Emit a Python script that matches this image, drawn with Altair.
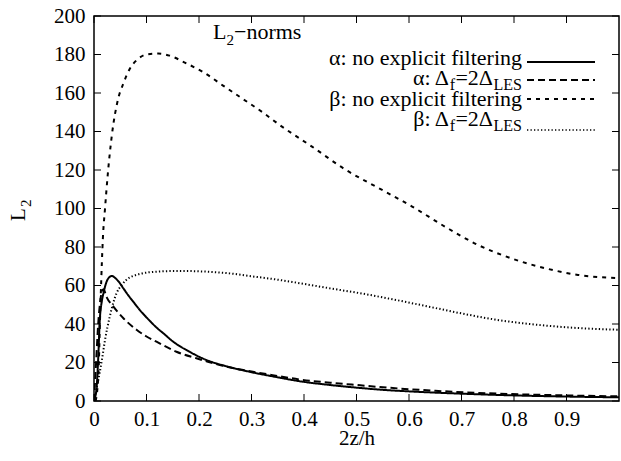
import altair as alt
import pandas as pd

# ---------------- data ----------------
series_names = ["a_nofilt", "a_filt", "b_nofilt", "b_filt"]

a_nofilt_x = [0, 0.003, 0.005, 0.008, 0.011, 0.015, 0.018, 0.024, 0.03, 0.034, 0.04, 0.047, 0.056,
              0.065, 0.075, 0.085, 0.094, 0.105, 0.119, 0.135, 0.15, 0.165, 0.182, 0.2, 0.217, 0.25,
              0.296, 0.35, 0.391, 0.45, 0.486, 0.55, 0.6, 0.7, 0.8, 0.9, 1.0]
a_nofilt_y = [0, 3, 7, 22, 42, 52, 56, 62, 64.5, 65, 64, 62, 58.5,
              55, 51.5, 48, 45.2, 42, 38.2, 34.5, 31, 28.2, 25.6, 23, 21, 18.2,
              15.2, 12.3, 10.3, 8.3, 7.3, 5.8, 5.0, 3.8, 2.9, 2.3, 1.9]

a_filt_x = [0, 0.004, 0.008, 0.012, 0.015, 0.018, 0.024, 0.037, 0.056, 0.081, 0.1, 0.119, 0.157,
            0.195, 0.217, 0.25, 0.3, 0.35, 0.391, 0.45, 0.5, 0.581, 0.65, 0.77, 0.9, 1.0]
a_filt_y = [0, 20, 40, 52, 57, 58, 54, 49, 43, 37, 33.5, 30.8, 25.6,
            22.2, 20.4, 18, 15.3, 13, 11.2, 9.5, 8.3, 6.5, 5.3, 3.8, 2.9, 2.4]

b_nofilt_x = [0.003, 0.006, 0.008, 0.0095, 0.011, 0.013, 0.015, 0.017, 0.021, 0.026, 0.034, 0.046,
              0.056, 0.068, 0.081, 0.1, 0.122, 0.144, 0.176, 0.207, 0.245, 0.283, 0.321, 0.353,
              0.416, 0.48, 0.543, 0.606, 0.669, 0.732, 0.796, 0.859, 0.922, 1.0]
b_nofilt_y = [0, 5, 12, 22, 38, 56, 72, 85, 100, 117, 138, 157,
              165, 172.5, 177, 180, 180.5, 179.4, 175.4, 171, 164, 157, 150, 143.5,
              132, 120, 110.5, 101, 90.5, 81, 74, 69, 65.5, 63.8]

b_filt_x = [0, 0.002, 0.006, 0.011, 0.016, 0.021, 0.03, 0.043, 0.052, 0.062, 0.075, 0.087, 0.119,
            0.15, 0.18, 0.214, 0.258, 0.3, 0.353, 0.385, 0.45, 0.511, 0.575, 0.638, 0.7, 0.764,
            0.83, 0.89, 0.95, 1.0]
b_filt_y = [0, 2, 8, 15, 23, 31.7, 43.8, 56, 60, 63, 65, 66, 67.2,
            67.5, 67.5, 67.2, 66.3, 64.8, 62.9, 61.5, 58.5, 55.8, 52.5, 49, 45.5, 42.3,
            40, 38.5, 37.5, 37]

x_ticks = [0, 0.1, 0.2, 0.3, 0.4, 0.5, 0.6, 0.7, 0.8, 0.9]
y_ticks = [0, 20, 40, 60, 80, 100, 120, 140, 160, 180, 200]

# ---------------- styling ----------------
FONT = "'Liberation Serif', 'DejaVu Serif', serif"
W, H = 525, 385
X0, Y0 = 94, 16
dashes = [[1, 0], [7, 4], [4, 5], [1.3, 2.2]]
widths = [2, 2, 2.2, 1.3]
LM, LS = 22, 16   # legend main / subscript font sizes

rows = []
for name, xs_, ys_ in [("a_nofilt", a_nofilt_x, a_nofilt_y), ("a_filt", a_filt_x, a_filt_y),
                        ("b_nofilt", b_nofilt_x, b_nofilt_y), ("b_filt", b_filt_x, b_filt_y)]:
    for a, b in zip(xs_, ys_):
        rows.append({"series": name, "x": a, "y": b})
df = pd.DataFrame(rows)

xs = alt.Scale(domain=[0, 1], nice=False, zero=False)
ys = alt.Scale(domain=[0, 200], nice=False)
x_axis = alt.Axis(values=x_ticks, format="~g", ticks=False, domain=False, grid=False,
                  labelFont=FONT, labelFontSize=21, labelColor="black", labelPadding=7,
                  labelFlush=False, title=None)
y_axis = alt.Axis(values=y_ticks, ticks=False, domain=False, grid=False, labelFont=FONT,
                  labelFontSize=21, labelColor="black", labelPadding=9, labelFlush=False,
                  title=None)

lines = alt.Chart(df).mark_line(interpolate="monotone", clip=True, color="black").encode(
    x=alt.X("x:Q", scale=xs, axis=x_axis),
    y=alt.Y("y:Q", scale=ys, axis=y_axis),
    strokeDash=alt.StrokeDash("series:N", scale=alt.Scale(domain=series_names, range=dashes), legend=None),
    strokeWidth=alt.StrokeWidth("series:N", scale=alt.Scale(domain=series_names, range=widths), legend=None),
    detail="series:N",
)

ytdf = pd.DataFrame({"y": y_ticks})
xtdf = pd.DataFrame({"x": x_ticks})
TL = 7
left_t = alt.Chart(ytdf).mark_rule(color="black", strokeWidth=1).encode(
    y=alt.Y("y:Q", scale=ys, axis=y_axis), x=alt.value(0), x2=alt.value(TL))
right_t = alt.Chart(ytdf).mark_rule(color="black", strokeWidth=1).encode(
    y=alt.Y("y:Q", scale=ys, axis=y_axis), x=alt.value(W - TL), x2=alt.value(W))
bot_t = alt.Chart(xtdf).mark_rule(color="black", strokeWidth=1).encode(
    x=alt.X("x:Q", scale=xs, axis=x_axis), y=alt.value(H - TL), y2=alt.value(H))
top_t = alt.Chart(xtdf).mark_rule(color="black", strokeWidth=1).encode(
    x=alt.X("x:Q", scale=xs, axis=x_axis), y=alt.value(0), y2=alt.value(TL))

dummy = pd.DataFrame({"k": [0]})


def txt(s, xa, ya, size=21, align="left", angle=0):
    return alt.Chart(dummy).mark_text(text=s, font=FONT, fontSize=size, align=align,
                                      baseline="alphabetic", angle=angle, color="black").encode(
        x=alt.value(xa - X0), y=alt.value(ya - Y0))


def sample(ya, dash, w):
    return alt.Chart(dummy).mark_rule(color="black", strokeWidth=w, strokeDash=dash).encode(
        x=alt.value(527 - X0), x2=alt.value(595 - X0), y=alt.value(ya - Y0))


def filt_row(greek, base):
    return [
        txt(greek + ": \u0394", 449, base, LM, align="right"),
        txt("f", 455, base + 5, LS, align="right"),
        txt("=2\u0394", 493, base, LM, align="right"),
        txt("LES", 522, base + 5, LS, align="right"),
    ]


texts = [
    # legend title
    txt("L", 213, 39, 22), txt("2", 226.5, 45, 15), txt("\u2212norms", 234, 39, 22),
    # rows
    txt("\u03b1: no explicit filtering", 522, 65, LM, align="right"),
    *filt_row("\u03b1", 85),
    txt("\u03b2: no explicit filtering", 522, 106, LM, align="right"),
    *filt_row("\u03b2", 126),
    # axis titles
    txt("2z/h", 357, 445, align="center"),
    txt("L", 25, 221, angle=270), txt("2", 31, 207, 15, angle=270),
]

samples = [sample(62, dashes[0], widths[0]), sample(80, dashes[1], widths[1]),
           sample(99, dashes[2], widths[2]), sample(130, dashes[3], widths[3])]

chart = alt.layer(lines, left_t, right_t, bot_t, top_t, *samples, *texts).properties(
    width=W, height=H, padding={"left": X0, "top": Y0, "right": 621 - X0 - W, "bottom": 461 - Y0 - H},
    autosize=alt.AutoSizeParams(type="none"), background="white"
).configure_view(stroke="black", strokeWidth=1.5)

chart.save("out.html", embed_options={"renderer": "svg", "actions": False})
